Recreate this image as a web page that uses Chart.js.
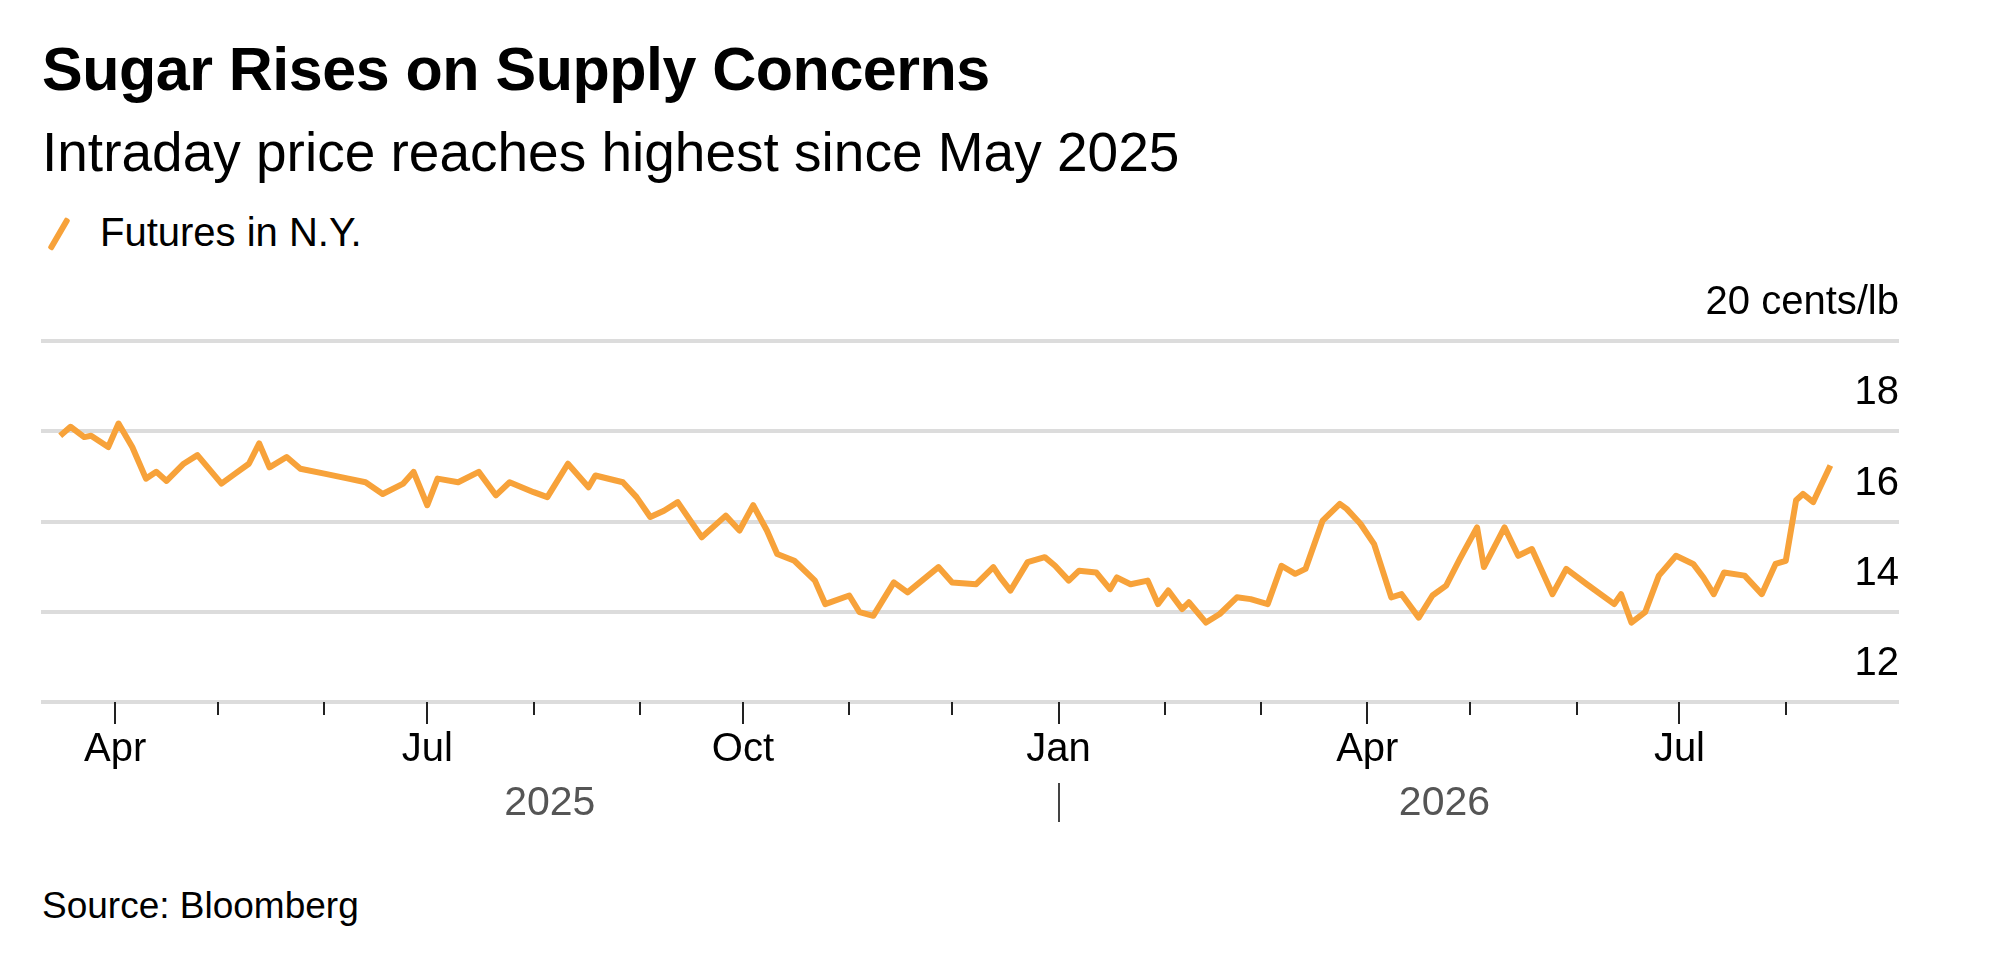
<!DOCTYPE html>
<html>
<head>
<meta charset="utf-8">
<script src="https://cdn.jsdelivr.net/npm/chart.js@4"></script>
<style>
  html, body { margin: 0; padding: 0; background: #fff; }
  body { width: 2000px; height: 956px; position: relative; overflow: hidden; font-family: "Liberation Sans", Arial, sans-serif; }
  #wrap { position: absolute; left: 0; top: 0; width: 2000px; height: 956px; }
  .txt { position: absolute; left: 42px; color: #000; white-space: nowrap; }
  #title { top: 34px; font-size: 61px; font-weight: bold; letter-spacing: -0.5px; }
  #sub { top: 120px; font-size: 55px; }
  #legend { top: 210px; left: 100px; font-size: 40px; }
  #swatch { position: absolute; left: 56px; top: 216px; width: 6px; height: 36px; background: #f7a23a; transform: rotate(30deg); border-radius: 2px; }
  #source { top: 885px; font-size: 37px; }
</style>
</head>
<body>
<div class="txt" id="title">Sugar Rises on Supply Concerns</div>
<div class="txt" id="sub">Intraday price reaches highest since May 2025</div>
<div id="swatch"></div>
<div class="txt" id="legend">Futures in N.Y.</div>
<div class="txt" id="source">Source: Bloomberg</div>
<div id="wrap"><canvas id="chart" width="2000" height="956"></canvas></div>
<script>
// days counted from 2025-01-01
const days = [74, 77, 81, 83, 88, 91, 95, 99, 102, 105, 110, 114, 121, 125, 129, 132, 135, 140, 144, 151,
  158, 163, 168, 174, 177, 181, 184, 190, 196, 201, 205, 212, 216, 222, 228, 230, 238, 242, 246, 250,
  254, 261, 268, 272, 276, 280, 283, 288, 294, 297, 304, 307, 311, 317, 321, 330, 334, 341, 346,
  348, 351, 356, 361, 364, 368, 371, 376, 380, 382, 386, 391, 394, 397, 401, 403, 408, 412, 417, 421,
  426, 430, 434, 437, 442, 447, 449, 453, 457, 462, 465, 470, 474, 478, 482, 487, 489, 495, 499, 503,
  509, 513, 519, 527, 529, 532, 536, 540, 545, 550, 553, 556, 559, 565, 570, 574, 577, 580, 582, 585, 587, 590];
const prices = [17.9, 18.1, 17.87, 17.9, 17.65, 18.17, 17.65, 16.95, 17.1, 16.9, 17.28, 17.47, 16.84, 17.06, 17.28, 17.73, 17.2, 17.43, 17.17, 17.06,
  16.95, 16.87, 16.61, 16.84, 17.1, 16.36, 16.95, 16.87, 17.1, 16.58, 16.87, 16.65, 16.54, 17.28, 16.76, 17.02, 16.87, 16.54, 16.1, 16.24,
  16.43, 15.65, 16.13, 15.8, 16.36, 15.8, 15.28, 15.13, 14.69, 14.17, 14.36, 13.99, 13.91, 14.65, 14.43, 14.99, 14.65, 14.61, 14.99,
  14.76, 14.47, 15.1, 15.21, 15.02, 14.69, 14.91, 14.87, 14.5, 14.76, 14.61, 14.69, 14.17, 14.47, 14.06, 14.21, 13.76, 13.95, 14.32, 14.28,
  14.17, 15.02, 14.84, 14.95, 16.02, 16.39, 16.28, 15.95, 15.5, 14.32, 14.39, 13.87, 14.36, 14.58, 15.17, 15.87, 14.99, 15.87, 15.24, 15.39,
  14.39, 14.95, 14.61, 14.17, 14.39, 13.76, 13.99, 14.8, 15.24, 15.06, 14.76, 14.39, 14.87, 14.8, 14.39, 15.06, 15.13, 16.47, 16.61, 16.43, 16.76, 17.24];
const yTicks = [12, 14, 16, 18, 20];
const monthNames = ["Jan", "Feb", "Mar", "Apr", "May", "Jun", "Jul", "Aug", "Sep", "Oct", "Nov", "Dec"];
const yearLabels = ["2025", "2026"];

const base = Date.UTC(2025, 0, 1);
function dayOf(y, m) { return (Date.UTC(y, m, 1) - base) / 86400000; }

// month starts Apr 2025 .. Aug 2026
const monthTicks = [];
for (let i = 3; i <= 19; i++) {
  const y = 2025 + Math.floor(i / 12), m = i % 12;
  monthTicks.push({ value: dayOf(y, m), month: m });
}

const tickPlugin = {
  id: "ticksYears",
  afterDraw(chart) {
    const ctx = chart.ctx, xs = chart.scales.x, bottom = chart.chartArea.bottom;
    ctx.save();
    ctx.strokeStyle = "#222";
    ctx.lineWidth = 2;
    monthTicks.forEach((t) => {
      const px = Math.round(xs.getPixelForValue(t.value));
      const len = t.month % 3 === 0 ? 22 : 13;
      ctx.beginPath();
      ctx.moveTo(px, bottom);
      ctx.lineTo(px, bottom + len);
      ctx.stroke();
    });
    // year labels
    const jan = dayOf(2026, 0);
    const jx = Math.round(xs.getPixelForValue(jan));
    ctx.beginPath();
    ctx.moveTo(jx, 783);
    ctx.lineTo(jx, 822);
    ctx.strokeStyle = "#444";
    ctx.stroke();
    ctx.fillStyle = "#555";
    ctx.font = '41px "Liberation Sans", Arial, sans-serif';
    ctx.textAlign = "center";
    ctx.textBaseline = "alphabetic";
    ctx.fillText(yearLabels[0], xs.getPixelForValue((xs.min + jan) / 2), 815);
    ctx.fillText(yearLabels[1], xs.getPixelForValue((jan + days[days.length - 1]) / 2), 815);
    ctx.restore();
  },
};

new Chart(document.getElementById("chart"), {
  type: "line",
  data: {
    datasets: [{
      data: days.map((d, i) => ({ x: d, y: prices[i] })),
      borderColor: "#f7a23a",
      borderWidth: 6,
      pointRadius: 0,
      tension: 0,
      borderJoinStyle: "round",
    }],
  },
  options: {
    responsive: false,
    animation: false,
    layout: { padding: { left: 41, top: 341, right: 101, bottom: 0 } },
    plugins: { legend: { display: false }, tooltip: { enabled: false } },
    scales: {
      x: {
        type: "linear",
        min: 68.4,
        max: 610,
        afterBuildTicks(s) { s.ticks = monthTicks.map((t) => ({ value: t.value })); },
        afterFit(s) { s.height = 254; },
        grid: { drawOnChartArea: false, drawTicks: false },
        border: { display: false },
        ticks: {
          autoSkip: false,
          maxRotation: 0,
          padding: 24,
          color: "#000",
          font: { size: 40, family: '"Liberation Sans", Arial, sans-serif' },
          callback(v) {
            const t = monthTicks.find((m) => m.value === v);
            return t && t.month % 3 === 0 ? monthNames[t.month] : "";
          },
        },
      },
      y: {
        position: "right",
        min: 12,
        max: 20,
        afterBuildTicks(s) { s.ticks = yTicks.map((v) => ({ value: v })); },
        afterFit(s) { s.width = 0; },
        grid: { color: "#dcdcdc", lineWidth: 4, drawTicks: false },
        border: { display: false },
        ticks: {
          mirror: true,
          padding: 0,
          labelOffset: -38,
          color: "#000",
          font: { size: 40, family: '"Liberation Sans", Arial, sans-serif' },
          callback(v) { return v === 20 ? "20 cents/lb" : String(v); },
        },
      },
    },
  },
  plugins: [tickPlugin],
});
</script>
</body>
</html>
